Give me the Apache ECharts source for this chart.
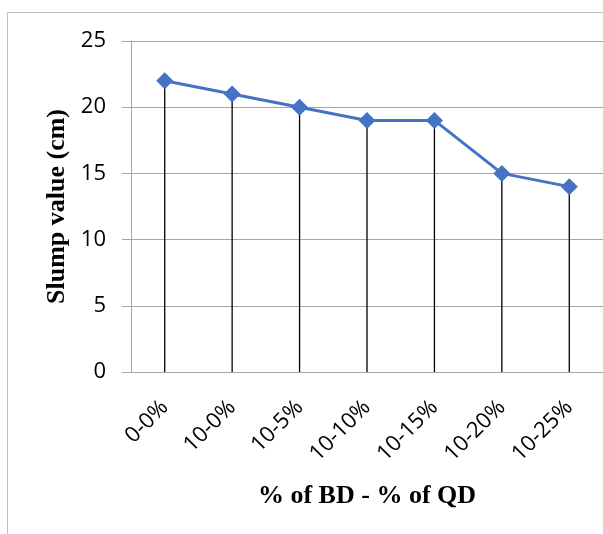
<!DOCTYPE html>
<html><head><meta charset="utf-8">
<script src="https://cdn.jsdelivr.net/npm/echarts@6/dist/echarts.min.js"></script>
<style>html,body{margin:0;padding:0;background:#fff}#c{width:603px;height:534px}</style>
</head><body><div id="c"></div>
<script>
const categories = ['0-0%','10-0%','10-5%','10-10%','10-15%','10-20%','10-25%'];
const slumpValues = [22,21,20,19,19,15,14];
const yTicks = {min:0, max:25, interval:5};

const chart = echarts.init(document.getElementById('c'), null, {renderer:'canvas'});
chart.setOption({
  animation:false,
  graphic:[{type:'rect', shape:{x:7.5,y:12.5,width:700,height:700}, style:{fill:'none',stroke:'#BFBFBF',lineWidth:1}, silent:true}],
  grid:{left:131, top:41, right:-3, bottom:162, containLabel:false},
  xAxis:{type:'category', data:categories, boundaryGap:true,
    axisLine:{lineStyle:{color:'#A6A6A6'}}, axisTick:{show:false},
    axisLabel:{rotate:45, color:'#000', fontFamily:'Open Sans', fontSize:22, margin:32},
    name:'% of BD - % of QD', nameLocation:'middle', nameGap:111,
    nameTextStyle:{fontFamily:'Liberation Serif', fontWeight:'bold', fontSize:26, color:'#000'}},
  yAxis:{type:'value', min:yTicks.min, max:yTicks.max, interval:yTicks.interval,
    axisLine:{show:true, lineStyle:{color:'#A6A6A6'}}, axisTick:{show:true, length:9, lineStyle:{color:'#A6A6A6'}},
    splitLine:{lineStyle:{color:'#A6A6A6'}},
    axisLabel:{color:'#000', fontFamily:'Open Sans', fontSize:22, margin:25},
    name:'Slump value (cm)', nameLocation:'middle', nameGap:60,
    nameTextStyle:{fontFamily:'Liberation Serif', fontWeight:'bold', fontSize:26, color:'#000'}},
  series:[
    {type:'bar', data:slumpValues, barWidth:1.3, itemStyle:{color:'#000'}, silent:true, z:1},
    {type:'line', data:slumpValues, symbol:'diamond', symbolSize:17, showSymbol:true,
      lineStyle:{color:'#4472C4', width:3}, itemStyle:{color:'#4472C4'}, z:3}
  ]
});
</script></body></html>
